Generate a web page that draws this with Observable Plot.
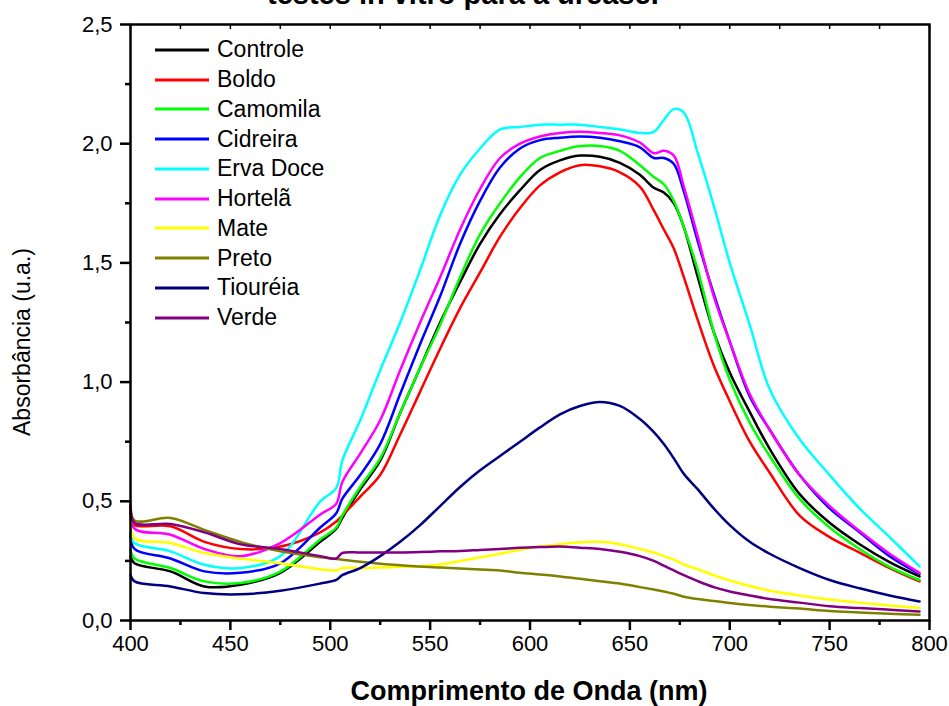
<!DOCTYPE html>
<html><head><meta charset="utf-8">
<script src="https://cdn.jsdelivr.net/npm/d3@7"></script>
<script src="https://cdn.jsdelivr.net/npm/@observablehq/plot@0.6"></script>
<style>
body{margin:0;background:#fff;font-family:Arial,"Liberation Sans",sans-serif;color:#000;}
#wrap{position:relative;width:949px;height:706px;overflow:hidden;background:#fff;}
#title{position:absolute;left:267px;top:-20px;font-size:29px;line-height:29px;font-weight:bold;white-space:nowrap;}
#chart{position:absolute;left:0;top:0;}
#legend{position:absolute;left:155px;top:35px;font-size:23px;}
.row{display:flex;align-items:center;height:29.75px;}
.row svg{margin-right:8px;}
#ytitle{position:absolute;left:22px;top:342px;transform:translate(-50%,-50%) rotate(-90deg);font-size:23px;white-space:nowrap;}
#xtitle{position:absolute;left:529px;top:691px;transform:translate(-50%,-50%);font-size:27px;font-weight:bold;white-space:nowrap;}
</style></head><body>
<div id="wrap">
<div id="chart"></div>
<div id="title">testes in vitro para a urease.</div>
<div id="legend"></div>
<div id="ytitle">Absorbância (u.a.)</div>
<div id="xtitle">Comprimento de Onda (nm)</div>
</div>
<script>
const wavelengths = [400,402,420,437,455,475,495,503,506,515,525,535,545,555,565,575,585,595,605,615,625,635,645,655,662,667,672,677,684,692,700,710,720,735,750,765,780,795];
const controle = [0.27,0.24,0.206,0.143,0.15,0.20,0.33,0.385,0.43,0.55,0.67,0.87,1.06,1.25,1.42,1.58,1.705,1.805,1.89,1.93,1.95,1.945,1.92,1.87,1.815,1.795,1.75,1.65,1.44,1.21,1.04,0.875,0.72,0.53,0.41,0.32,0.245,0.185];
const boldo = [0.43,0.40,0.395,0.33,0.30,0.31,0.37,0.415,0.44,0.52,0.61,0.78,0.96,1.14,1.31,1.46,1.61,1.73,1.825,1.88,1.91,1.905,1.88,1.82,1.72,1.64,1.56,1.44,1.26,1.07,0.92,0.75,0.62,0.44,0.35,0.285,0.22,0.164];
const camomila = [0.30,0.26,0.22,0.164,0.157,0.205,0.34,0.39,0.44,0.56,0.68,0.87,1.06,1.24,1.44,1.62,1.75,1.86,1.94,1.97,1.99,1.99,1.97,1.91,1.86,1.83,1.76,1.65,1.47,1.21,1.01,0.83,0.69,0.51,0.39,0.30,0.225,0.17];
const cidreira = [0.36,0.30,0.26,0.206,0.20,0.24,0.39,0.45,0.51,0.61,0.74,0.95,1.16,1.36,1.58,1.76,1.90,1.98,2.015,2.025,2.03,2.025,2.01,1.985,1.94,1.94,1.915,1.80,1.59,1.37,1.17,0.94,0.80,0.61,0.47,0.37,0.27,0.195];
const ervaDoce = [0.37,0.325,0.29,0.234,0.22,0.27,0.50,0.555,0.67,0.84,1.05,1.25,1.47,1.70,1.87,1.98,2.06,2.07,2.08,2.08,2.08,2.07,2.06,2.045,2.05,2.10,2.145,2.13,1.96,1.74,1.50,1.24,0.97,0.76,0.61,0.47,0.35,0.227];
const hortela = [0.47,0.385,0.36,0.30,0.27,0.325,0.445,0.49,0.58,0.70,0.84,1.05,1.25,1.44,1.64,1.81,1.94,2.00,2.03,2.045,2.05,2.045,2.035,2.005,1.96,1.97,1.95,1.82,1.61,1.36,1.17,0.95,0.80,0.61,0.48,0.375,0.28,0.20];
const mate = [0.415,0.345,0.325,0.283,0.26,0.24,0.215,0.21,0.22,0.22,0.222,0.225,0.228,0.235,0.25,0.265,0.28,0.297,0.31,0.32,0.328,0.33,0.32,0.30,0.285,0.27,0.255,0.235,0.215,0.19,0.168,0.145,0.125,0.105,0.088,0.075,0.063,0.052];
const preto = [0.50,0.42,0.43,0.38,0.33,0.29,0.265,0.258,0.255,0.246,0.238,0.232,0.226,0.222,0.218,0.214,0.21,0.20,0.193,0.185,0.175,0.165,0.155,0.14,0.13,0.122,0.112,0.10,0.09,0.082,0.073,0.065,0.058,0.05,0.04,0.034,0.028,0.024];
const tioureia = [0.19,0.164,0.143,0.115,0.11,0.125,0.155,0.17,0.19,0.22,0.27,0.33,0.40,0.48,0.56,0.63,0.69,0.75,0.81,0.865,0.90,0.917,0.90,0.845,0.79,0.74,0.68,0.615,0.55,0.47,0.40,0.33,0.28,0.22,0.17,0.135,0.105,0.08];
const verde = [0.48,0.41,0.405,0.37,0.32,0.30,0.27,0.26,0.283,0.285,0.285,0.285,0.287,0.29,0.292,0.296,0.30,0.305,0.308,0.31,0.305,0.30,0.288,0.27,0.25,0.23,0.21,0.19,0.165,0.14,0.122,0.105,0.09,0.075,0.06,0.052,0.045,0.038];

const seriesNames = ["Controle","Boldo","Camomila","Cidreira","Erva Doce","Hortelã","Mate","Preto","Tiouréia","Verde"];
const seriesValues = [controle,boldo,camomila,cidreira,ervaDoce,hortela,mate,preto,tioureia,verde];
const seriesColors = ["#000000","#ff0000","#00ff00","#0000ff","#00ffff","#ff00ff","#ffff00","#808000","#000080","#800080"];
const xTicks = [400,450,500,550,600,650,700,750,800];
const xMinor = [425,475,525,575,625,675,725,775];
const yTicks = [0,0.5,1,1.5,2,2.5];
const yMinor = [0.25,0.75,1.25,1.75,2.25];

const rows = [];
seriesNames.forEach((name,i)=>{
  wavelengths.forEach((w,j)=>rows.push({w, v: seriesValues[i][j], s: name}));
});
const fmt = d => d.toFixed(1).replace(".", ",");

const chart = Plot.plot({
  width: 949, height: 706,
  marginLeft: 130, marginRight: 20, marginTop: 24, marginBottom: 86,
  x: {domain: [400, 800]},
  y: {domain: [0, 2.5]},
  color: {domain: seriesNames, range: seriesColors},
  style: {fontFamily: 'Arial, "Liberation Sans", sans-serif', fontSize: "22px", color: "#000", background: "#fff"},
  marks: [
    Plot.line(rows, {x: "w", y: "v", z: "s", stroke: "s", strokeWidth: 2.5, curve: "catmull-rom"}),
    Plot.frame({stroke: "#000", strokeWidth: 2.5}),
    Plot.axisY(yTicks, {tickSize: 10, tickPadding: 8, tickFormat: fmt, label: null, strokeWidth: 2.5}),
    Plot.axisY(yMinor, {tickSize: 5, text: null, label: null, strokeWidth: 2.5}),
    Plot.axisX(xTicks, {tickSize: 10, tickPadding: 5, label: null, strokeWidth: 2.5}),
    Plot.axisX(xMinor, {tickSize: 5, text: null, label: null, strokeWidth: 2.5}),
    Plot.axisX(xTicks.concat(xMinor), {anchor: "top", tickSize: -4, text: null, label: null, strokeWidth: 1.5})
  ]
});
document.getElementById("chart").append(chart);

const legend = document.getElementById("legend");
seriesNames.forEach((name,i)=>{
  const row = document.createElement("div");
  row.className = "row";
  row.innerHTML = `<svg width="54" height="6"><line x1="0" x2="54" y1="3" y2="3" stroke="${seriesColors[i]}" stroke-width="3"/></svg><span>${name}</span>`;
  legend.append(row);
});
</script>
</body></html>
